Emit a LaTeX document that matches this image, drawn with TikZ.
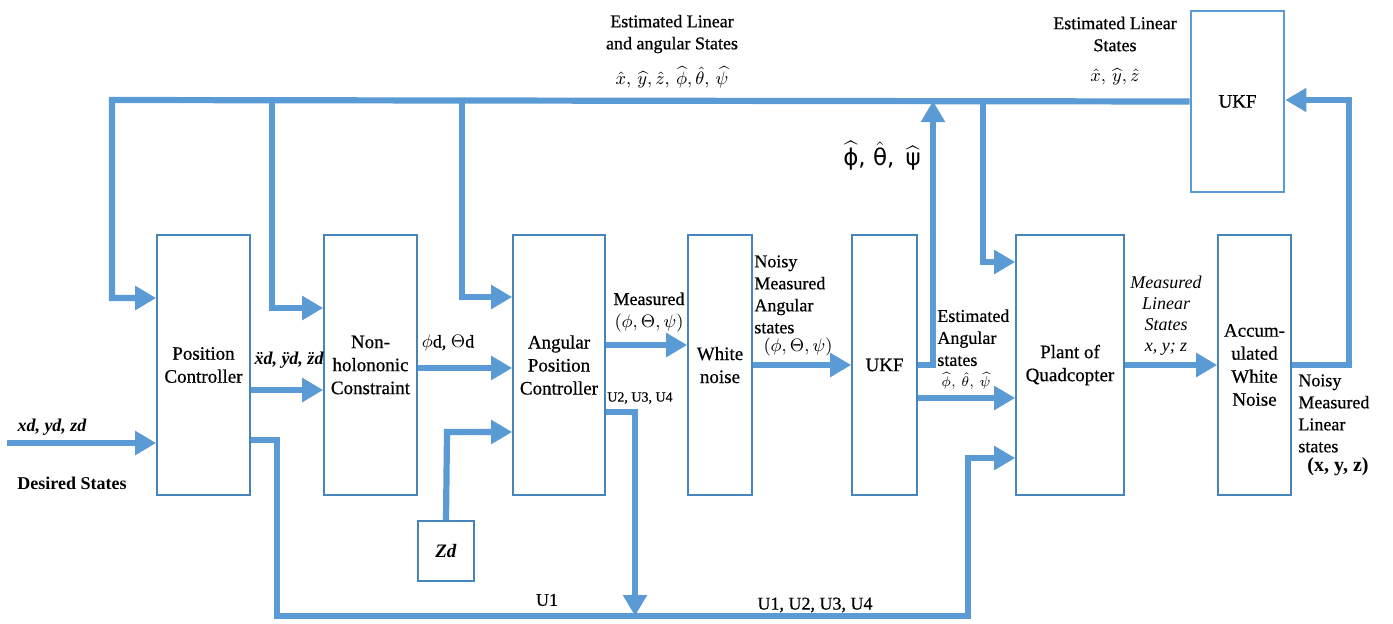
\documentclass[tikz,border=0pt]{standalone}
\usepackage{amsmath}
\usepackage{fontspec}
\setmainfont{Liberation Serif}[UprightFeatures={FakeBold=0.6}]
\newfontfamily\dvs{DejaVu Sans}
\usetikzlibrary{arrows.meta}
\definecolor{arrc}{RGB}{91,155,213}
\definecolor{boxc}{RGB}{70,132,188}
\tikzset{
  blk/.style={draw=boxc, line width=0.8pt, inner sep=0pt, align=center,
    font=\fontsize{9.5}{11.5}\selectfont},
  arr/.style={draw=arrc, line width=3.1pt, line join=miter,
    -{Triangle[length=10.5pt,width=11.5pt]}},
  lbl/.style={inner sep=0pt, align=center, font=\fontsize{9}{11}\selectfont},
  lbll/.style={inner sep=0pt, align=left, font=\fontsize{9}{11}\selectfont},
  sml/.style={inner sep=0pt, align=center, font=\fontsize{7}{8.5}\selectfont}
}
\begin{document}
\begin{tikzpicture}[x=0.5pt,y=-0.5pt]
\useasboundingbox (0,0) rectangle (1393,623);
% blocks
\node[blk, minimum width=46.5pt, minimum height=130pt] (pc) at (203.5,365) {Position\\Controller};
\node[blk, minimum width=46.5pt, minimum height=130pt] (nh) at (370.5,365) {Non-\\holononic\\Constraint};
\node[blk, minimum width=46pt, minimum height=130pt] (apc) at (559,365) {Angular\\Position\\Controller};
\node[blk, minimum width=32pt, minimum height=130pt] (wn) at (720,365) {White\\noise};
\node[blk, minimum width=32.5pt, minimum height=130pt] (ukf) at (884.5,365) {UKF};
\node[blk, minimum width=54pt, minimum height=130pt] (plant) at (1070,365) {Plant of\\Quadcopter};
\node[blk, minimum width=36.5pt, minimum height=130pt] (acc) at (1254.5,365) {Accum-\\ulated\\White\\Noise};
\node[blk, draw=arrc, line width=1.4pt, minimum width=46.5pt, minimum height=90.5pt] (ukf2) at (1237.5,101.5) {UKF};
\node[blk, minimum width=28pt, minimum height=30pt] (zd) at (446,551) {\textbf{\textit{Zd}}};
% coordinates
\coordinate (in) at (7,443);
\coordinate (tl) at (112,100);
\coordinate (tr) at (1349,100);
% top bus and feedback branches
\draw[arr] (ukf2.west) -- (tl) -- (112,298) -- (pc.west|-0,298);
\draw[arr] (272,100) -- (272,308) -- (nh.west|-0,308);
\draw[arr] (462,100) -- (462,297) -- (apc.west|-0,297);
\draw[arr] (983,100) -- (983,262) -- (plant.west|-0,262);
\draw[arr] (ukf.east|-0,365) -- (933,365) -- (933,101);
% forward path
\draw[arr] (in) -- (pc.west|-0,443);
\draw[arr] (pc.east|-0,390) -- (nh.west|-0,390);
\draw[arr] (nh.east|-0,368) -- (apc.west|-0,368);
\draw[arr] (zd.north) -- (447,432) -- (apc.west|-0,432);
\draw[arr] (apc.east|-0,345) -- (wn.west|-0,345);
\draw[arr] (wn.east) -- (ukf.west);
\draw[arr] (ukf.east|-0,398) -- (plant.west|-0,398);
\draw[arr] (plant.east) -- (acc.west);
\draw[arr] (acc.east) -- (1349,365) -- (tr) -- (ukf2.east|-0,100);
% control signals
\draw[arr] (apc.east|-0,412) -- (635,412) -- (635,616);
\draw[arr] (pc.east|-0,440) -- (277,440) -- (277,616) -- (968,616) -- (968,458) -- (plant.west|-0,458);
% labels
\node[lbl] (l1) at (672,34) {Estimated Linear\\and angular States};
\node[lbl] (l1f) at (672,77) {$\hat{x},\,\widehat{y},\hat{z},\,\widehat{\phi},\hat{\theta},\,\widehat{\psi}$};
\node[lbl] (l2) at (1115,34) {Estimated Linear\\States};
\node[lbl] (l2f) at (1115,77) {$\hat{x},\,\widehat{y},\hat{z}$};
\node[inner sep=0pt, font=\dvs\fontsize{11.5}{13}\selectfont] (l3) at (882,156) {$\widehat{\text{ϕ}}$, $\hat{\text{θ}}$,\, $\widehat{\text{ψ}}$};
\node[lbl, font=\bfseries\itshape\fontsize{9}{11}\selectfont] (l4) at (289,360) {\"xd, \"yd, \"zd};
\node[lbl] (l5) at (448,343) {$\phi$d, $\Theta$d};
\node[lbl, font=\bfseries\itshape\fontsize{9}{11}\selectfont] (l6) at (52,427) {xd, yd, zd};
\node[lbl, font=\bfseries\fontsize{9}{11}\selectfont] (l7) at (72,483) {Desired States};
\node[lbl] (l8) at (649,312) {Measured\\$(\phi,\Theta,\psi)$};
\node[sml] (l9) at (640,398) {U2, U3, U4};
\node[lbll, anchor=north west] (l10) at (754,255) {Noisy\\Measured\\Angular\\states};
\node[lbl] (l10f) at (798,347) {$(\phi,\Theta,\psi)$};
\node[lbll, anchor=north west] (l11) at (937,309) {Estimated\\Angular\\states};
\node[sml] (l11f) at (966,381) {$\widehat{\phi},\,\hat{\theta},\,\widehat{\psi}$};
\node[lbl, font=\itshape\fontsize{9}{10.5}\selectfont] (l12) at (1166,316) {Measured\\Linear\\States\\x, y; z};
\node[lbll, anchor=north west] (l13) at (1298,374) {Noisy\\Measured\\Linear\\states};
\node[lbl, font=\bfseries\fontsize{10}{12}\selectfont] (l13f) at (1338,467) {(x, y, z)};
\node[lbl] (l14) at (547,600) {U1};
\node[lbl] (l15) at (815,605) {U1, U2, U3, U4};
\end{tikzpicture}
\end{document}
